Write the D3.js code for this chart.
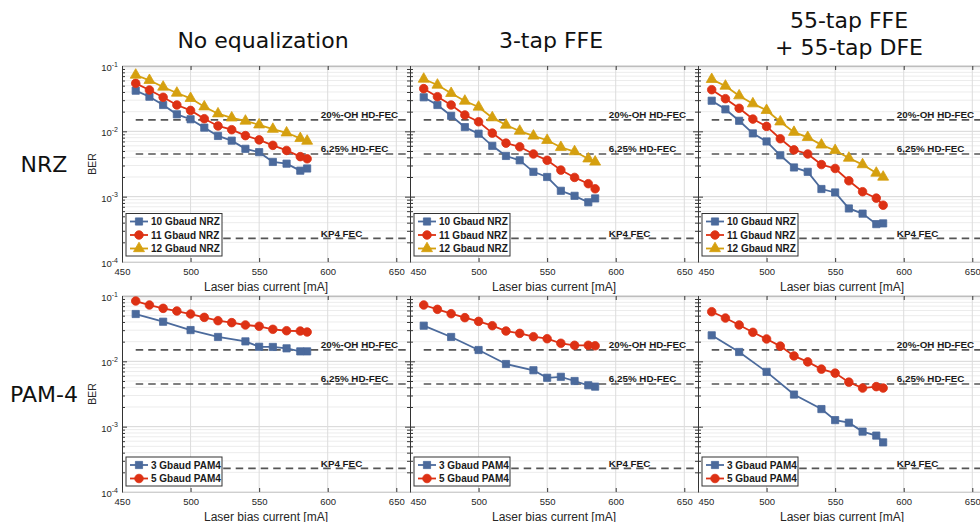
<!DOCTYPE html>
<html lang="en">
<head>
<meta charset="UTF-8">
<title>BER vs laser bias current</title>
<script src="https://cdn.jsdelivr.net/npm/d3@7"></script>
<style>
  body { margin: 0; background: #fff; }
  svg { display: block; font-family: "Liberation Sans", Arial, sans-serif; }
  .big { font-family: "DejaVu Sans", sans-serif; font-size: 22px; fill: #111; }
  .tick text { font-family: "Liberation Sans", Arial, sans-serif; font-size: 9.5px; fill: #262626; }
</style>
</head>
<body>
<svg id="chart" width="980" height="522"></svg>
<script>
// ---- data ----
const colTitles = [["No equalization"], ["3-tap FFE"], ["55-tap FFE", "+ 55-tap DFE"]];
const rowTitles = ["NRZ", "PAM-4"];
const xTickVals = [450, 500, 550, 600, 650];

const biasFull = [460, 470, 480, 490, 500, 510, 520, 530, 540, 550, 560, 570, 580, 585];
const biasPam3 = [460, 480, 500, 520, 540, 550, 560, 570, 580, 585];

const nrzNames = ["10 Gbaud NRZ", "11 Gbaud NRZ", "12 Gbaud NRZ"];
const pamNames = ["3 Gbaud PAM4", "5 Gbaud PAM4"];

// NRZ, no equalization
const nrzNoEq10 = [0.0419, 0.0339, 0.0253, 0.0182, 0.0153, 0.0114, 0.0085, 0.0072, 0.0054, 0.0048, 0.0034, 0.0032, 0.0025, 0.0027];
const nrzNoEq11 = [0.0543, 0.0429, 0.0332, 0.0253, 0.0209, 0.0156, 0.0121, 0.0106, 0.0086, 0.0074, 0.0061, 0.0051, 0.0041, 0.0038];
const nrzNoEq12 = [0.0728, 0.0604, 0.0477, 0.0386, 0.0320, 0.0238, 0.0186, 0.0161, 0.0144, 0.0126, 0.0108, 0.0095, 0.0078, 0.0071];
// NRZ, 3-tap FFE
const nrzFfe10 = [0.0332, 0.0253, 0.0173, 0.0116, 0.0092, 0.0060, 0.0042, 0.0036, 0.0024, 0.0020, 0.00123, 0.00103, 0.00082, 0.00094];
const nrzFfe11 = [0.0450, 0.0339, 0.0253, 0.0178, 0.0140, 0.0094, 0.0066, 0.0058, 0.0045, 0.0036, 0.00255, 0.00197, 0.00158, 0.00132];
const nrzFfe12 = [0.0632, 0.0512, 0.0382, 0.0291, 0.0236, 0.0162, 0.0125, 0.0101, 0.0085, 0.0073, 0.0057, 0.0049, 0.0038, 0.0034];
// NRZ, 55-tap FFE + 55-tap DFE
const nrzDfe10 = [0.0294, 0.0217, 0.0145, 0.0093, 0.0070, 0.0043, 0.0028, 0.0024, 0.00131, 0.00116, 0.00066, 0.00055, 0.00038, 0.00039];
const nrzDfe11 = [0.0434, 0.0316, 0.0225, 0.0154, 0.0119, 0.0077, 0.0052, 0.0045, 0.0031, 0.0027, 0.00175, 0.00119, 0.00095, 0.00074];
const nrzDfe12 = [0.0625, 0.0494, 0.0351, 0.0265, 0.0210, 0.0140, 0.0097, 0.0081, 0.0062, 0.0051, 0.0039, 0.0031, 0.0023, 0.0020];
// PAM-4
const pamNoEq3 = [0.0530, 0.0404, 0.0301, 0.0236, 0.0202, 0.0167, 0.0166, 0.0158, 0.0142, 0.0142];
const pamNoEq5 = [0.0838, 0.0728, 0.0647, 0.0589, 0.0530, 0.0471, 0.0419, 0.0391, 0.0360, 0.0344, 0.0309, 0.0294, 0.0291, 0.0281];
const pamFfe3 = [0.0351, 0.0236, 0.0149, 0.0091, 0.0073, 0.0056, 0.0058, 0.0050, 0.0043, 0.0041];
const pamFfe5 = [0.0728, 0.0625, 0.0536, 0.0466, 0.0409, 0.0351, 0.0291, 0.0268, 0.0238, 0.0222, 0.0189, 0.0176, 0.0176, 0.0173];
const pamDfe3 = [0.0250, 0.0139, 0.0069, 0.0031, 0.00186, 0.00126, 0.00115, 0.00084, 0.00073, 0.000575];
const pamDfe5 = [0.0575, 0.0460, 0.0360, 0.0278, 0.0220, 0.0171, 0.0121, 0.0098, 0.0076, 0.0066, 0.0048, 0.0039, 0.0041, 0.0039];

// FEC thresholds
const fecBer = [1.5e-2, 4.5e-3, 2.3e-4];
const fecLabels = ["20%-OH HD-FEC", "6,25% HD-FEC", "KP4 FEC"];

// ---- layout ----
const svg = d3.select("#chart");
const panelW = 288;
const colLeft = [122, 410, 698];
const titleX = [263, 551, 849];
const rowBox = [{top: 66, bottom: 262}, {top: 296, bottom: 492}];
const blue = "#4b6a9c", red = "#dd3114", yellow = "#d5a00f";

const sq = d3.symbol().type(d3.symbolSquare).size(52)();
const ci = d3.symbol().type(d3.symbolCircle).size(58)();
const tri = d3.symbol().type(d3.symbolTriangle).size(52)();

const nrzSeries = (a, b, c) => [
  {name: nrzNames[0], x: biasFull, y: a, color: blue, sym: sq},
  {name: nrzNames[1], x: biasFull, y: b, color: red, sym: ci},
  {name: nrzNames[2], x: biasFull, y: c, color: yellow, sym: tri}
];
const pamSeries = (a, b) => [
  {name: pamNames[0], x: biasPam3, y: a, color: blue, sym: sq},
  {name: pamNames[1], x: biasFull, y: b, color: red, sym: ci}
];

const panels = [
  {row: 0, col: 0, series: nrzSeries(nrzNoEq10, nrzNoEq11, nrzNoEq12)},
  {row: 0, col: 1, series: nrzSeries(nrzFfe10, nrzFfe11, nrzFfe12)},
  {row: 0, col: 2, series: nrzSeries(nrzDfe10, nrzDfe11, nrzDfe12)},
  {row: 1, col: 0, series: pamSeries(pamNoEq3, pamNoEq5)},
  {row: 1, col: 1, series: pamSeries(pamFfe3, pamFfe5)},
  {row: 1, col: 2, series: pamSeries(pamDfe3, pamDfe5)}
];

const isDecade = d => Math.abs(Math.log10(d) - Math.round(Math.log10(d))) < 1e-6;

function drawPanel(p) {
  const x0 = colLeft[p.col];
  const {top, bottom} = rowBox[p.row];
  const x = d3.scaleLinear().domain([450, 660]).range([x0, x0 + panelW]);
  const y = d3.scaleLog().domain([1e-4, 1e-1]).range([bottom, top]);
  const g = svg.append("g");
  const yTicks = y.ticks();
  const yMajor = yTicks.filter(isDecade);
  const yMinor = yTicks.filter(d => !isDecade(d));

  // grid
  g.append("g").selectAll("line").data(yTicks).join("line")
    .attr("x1", x0).attr("x2", x0 + panelW)
    .attr("y1", d => y(d)).attr("y2", d => y(d))
    .attr("stroke", d => isDecade(d) ? "#d6d6d6" : "#ececec");
  g.append("g").selectAll("line").data(xTickVals.slice(1)).join("line")
    .attr("x1", d => x(d)).attr("x2", d => x(d))
    .attr("y1", top).attr("y2", bottom)
    .attr("stroke", "#dcdcdc");

  // axes: ticks pointing inward
  const tickStyle = sel => {
    sel.selectAll(".tick line").attr("stroke", "#3a3a3a");
  };
  g.append("g").attr("transform", `translate(${x0},0)`)
    .call(d3.axisLeft(y).tickValues(yMinor).tickSize(-3).tickFormat(""))
    .call(tickStyle).call(s => s.select(".domain").remove());
  g.append("g").attr("transform", `translate(${x0},0)`)
    .call(d3.axisLeft(y).tickValues(yMajor).tickSize(-5).tickSizeOuter(0).tickFormat(""))
    .call(tickStyle).call(s => s.select(".domain").attr("stroke", "#333"));
  g.append("g").attr("transform", `translate(${x0 + panelW},0)`)
    .call(d3.axisRight(y).tickValues(yMinor).tickSize(-3).tickFormat(""))
    .call(tickStyle).call(s => s.select(".domain").remove());
  g.append("g").attr("transform", `translate(${x0 + panelW},0)`)
    .call(d3.axisRight(y).tickValues(yMajor).tickSize(-5).tickFormat(""))
    .call(tickStyle).call(s => s.select(".domain").remove());
  g.append("g").attr("transform", `translate(0,${top})`)
    .call(d3.axisTop(x).tickValues(xTickVals).tickSize(-4).tickSizeOuter(0).tickFormat(""))
    .call(tickStyle).call(s => s.select(".domain").attr("stroke", "#bdbdbd").attr("stroke-width", 1.5));
  const xAxis = g.append("g").attr("transform", `translate(0,${bottom})`)
    .call(d3.axisBottom(x).tickValues(xTickVals).tickSize(-4).tickSizeOuter(0).tickPadding(6).tickFormat(d3.format("d")))
    .call(tickStyle).call(s => s.select(".domain").attr("stroke", "#cfcfcf"));
  xAxis.selectAll(".tick text").attr("font-size", null);
  if (p.col > 0) {
    xAxis.selectAll(".tick").filter(d => d === 450).select("text")
      .attr("text-anchor", "start").attr("x", 0);
  }

  // y tick labels (first column only)
  if (p.col === 0) {
    const lab = g.append("g").selectAll("text").data(yMajor).join("text")
      .attr("x", x0 - 4).attr("y", d => y(d) + 5)
      .attr("text-anchor", "end").attr("font-size", 9.5).attr("fill", "#262626");
    lab.append("tspan").text("10");
    lab.append("tspan").attr("font-size", 7).attr("dy", -4.5)
      .text(d => "-" + Math.round(-Math.log10(d)));
    svg.append("text")
      .attr("transform", `translate(96,${(top + bottom) / 2}) rotate(-90)`)
      .attr("text-anchor", "middle").attr("font-size", 10.5).attr("fill", "#262626")
      .text("BER");
  }

  // x-axis title
  g.append("text").attr("x", x0 + panelW / 2).attr("y", bottom + 28.5)
    .attr("text-anchor", "middle").attr("font-size", 12).attr("fill", "#262626")
    .text("Laser bias current [mA]");

  // FEC thresholds
  g.append("g").selectAll("line").data(fecBer).join("line")
    .attr("x1", x(460)).attr("x2", x0 + panelW)
    .attr("y1", d => y(d)).attr("y2", d => y(d))
    .attr("stroke", "#555").attr("stroke-width", 1.6).attr("stroke-dasharray", "7.5,5");
  g.append("g").selectAll("text").data(fecBer).join("text")
    .attr("x", x(595)).attr("y", d => y(d) - 1.5)
    .attr("font-size", 9.8).attr("font-weight", "bold").attr("fill", "#1a1a1a")
    .text((d, i) => fecLabels[i]);

  // series
  const line = d3.line().x(d => x(d[0])).y(d => y(d[1]));
  p.series.forEach(s => {
    const pts = s.x.map((v, i) => [v, s.y[i]]);
    g.append("path").datum(pts).attr("d", line)
      .attr("fill", "none").attr("stroke", s.color).attr("stroke-width", 1.8);
    g.append("g").selectAll("path").data(pts).join("path")
      .attr("d", s.sym).attr("transform", d => `translate(${x(d[0])},${y(d[1])})`)
      .attr("fill", s.color).attr("stroke", s.color).attr("stroke-width", 0.8);
  });

  // legend
  const n = p.series.length;
  const lh = 15.5 + (n - 1) * 13.5;
  const lx = x0 + 4, ly = bottom - 6 - lh;
  const leg = g.append("g").attr("transform", `translate(${lx},${ly})`);
  leg.append("rect").attr("width", 96).attr("height", lh)
    .attr("fill", "#fff").attr("stroke", "#333").attr("stroke-width", 1);
  p.series.forEach((s, i) => {
    const ey = 8 + i * 13.5;
    leg.append("line").attr("x1", 4).attr("x2", 22).attr("y1", ey).attr("y2", ey)
      .attr("stroke", s.color).attr("stroke-width", 1.8);
    leg.append("path").attr("d", s.sym).attr("transform", `translate(13,${ey})`)
      .attr("fill", s.color).attr("stroke", s.color).attr("stroke-width", 0.8);
    leg.append("text").attr("x", 25).attr("y", ey + 3.5)
      .attr("font-size", 10).attr("font-weight", "bold").attr("fill", "#1a1a1a")
      .text(s.name);
  });
}

panels.forEach(drawPanel);

// column and row titles
colTitles.forEach((lines, i) => {
  const t = svg.append("text").attr("class", "big").attr("text-anchor", "middle");
  const base = lines.length > 1 ? 28 : 48;
  lines.forEach((l, j) => t.append("tspan").attr("x", titleX[i]).attr("y", base + j * 27).text(l));
});
rowTitles.forEach((r, i) => {
  svg.append("text").attr("class", "big").attr("text-anchor", "middle")
    .attr("x", 44).attr("y", (rowBox[i].top + rowBox[i].bottom) / 2 + 8)
    .text(r);
});
</script>
</body>
</html>
